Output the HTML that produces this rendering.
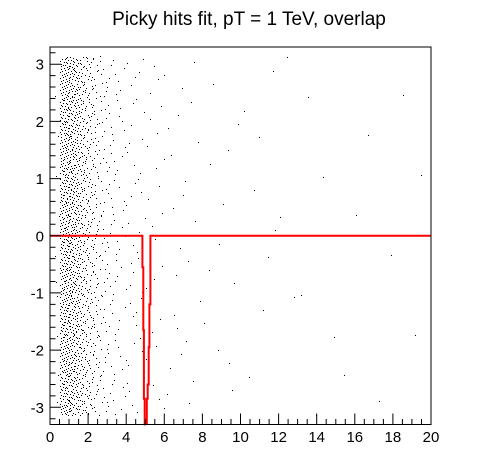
<!DOCTYPE html>
<html><head><meta charset="utf-8"><style>
html,body{margin:0;padding:0;background:#fff;}
svg{display:block;font-family:"Liberation Sans",sans-serif;}
</style></head><body>
<svg id="chart" width="496" height="472" viewBox="0 0 496 472" xmlns="http://www.w3.org/2000/svg">
<rect x="0" y="0" width="496" height="472" fill="#fff"/>
<text x="249" y="25" text-anchor="middle" font-size="19" fill="#000">Picky hits fit, pT = 1 TeV, overlap</text>
<g id="points"></g>
<g id="fit"></g>
<rect x="50" y="47" width="381" height="377.5" fill="none" stroke="#000" stroke-width="1"/>
<g id="axes"></g>
</svg>
<script>
// data
const binStart = [0.25,0.5,0.75,1.0,1.25,1.5,1.75,2.0,2.25,2.5,2.75,3.0,3.25,3.5,4.0,4.5,5.0,6.0,7.0,8.0,10.0,12.0,15.0];
const binEnd   = [0.5,0.75,1.0,1.25,1.5,1.75,2.0,2.25,2.5,2.75,3.0,3.25,3.5,4.0,4.5,5.0,6.0,7.0,8.0,10.0,12.0,15.0,20.0];
const binCounts= [10,230,270,250,210,160,125,95,70,45,35,28,22,30,24,20,25,15,10,12,8,8,8];
const fitLeftX = [0,4.85,4.85,4.9,4.9,4.93,4.93,4.97,4.97,5.02];
const fitLeftY = [0,0,-0.55,-0.55,-1.65,-1.65,-2.85,-2.85,-3.3,-3.3];
const fitRightX= [5.08,5.08,5.13,5.13,5.18,5.18,5.22,5.22,5.27,5.27,20];
const fitRightY= [-3.3,-2.85,-2.85,-2.6,-2.6,-1.95,-1.95,-1.2,-1.2,0,0];
const xTicks = [0,2,4,6,8,10,12,14,16,18,20];
const yTicks = [-3,-2,-1,0,1,2,3];

const X0=50,X1=431,Y0=47,Y1=424.5,XMIN=0,XMAX=20,YMIN=-3.3,YMAX=3.3;
const sx=v=>X0+(v-XMIN)/(XMAX-XMIN)*(X1-X0);
const sy=v=>Y1-(v-YMIN)/(YMAX-YMIN)*(Y1-Y0);
const NS="http://www.w3.org/2000/svg";
function halton(i,b){let f=1,r=0;while(i>0){f/=b;r+=f*(i%b);i=Math.floor(i/b);}return r;}
const pts=document.getElementById('points');
let idx=1, d='';
for(let k=0;k<binCounts.length;k++){
  for(let j=0;j<binCounts[k];j++){
    const x=binStart[k]+(binEnd[k]-binStart[k])*halton(idx,2);
    const y=-3.14+6.28*halton(idx,3);
    idx++;
    const px=Math.round(sx(x)),py=Math.round(sy(y));
    d+=`M${px},${py}h1v1h-1z`;
  }
}
const pp=document.createElementNS(NS,'path');
pp.setAttribute('d',d);pp.setAttribute('fill','#000');


pts.appendChild(pp);

const fit=document.getElementById('fit');
function poly(xs,ys,name){
  const pl=document.createElementNS(NS,'polyline');
  pl.setAttribute('points',xs.map((x,i)=>sx(x).toFixed(1)+','+sy(ys[i]).toFixed(1)).join(' '));
  pl.setAttribute('fill','none');pl.setAttribute('stroke','#f00');pl.setAttribute('stroke-width','2');
  
  
  fit.appendChild(pl);
}
poly(fitLeftX,fitLeftY,'fit-line-left');
poly(fitRightX,fitRightY,'fit-line-right');

const ax=document.getElementById('axes');
let td='';
for(let v=0;v<=20.001;v+=0.5){const x=sx(v);const major=Math.abs(v/2-Math.round(v/2))<1e-6;td+=`M${x.toFixed(1)},${Y1}v${major?-11:-5.5}`;}
for(let v=-3.2;v<=3.301;v+=0.2){const y=sy(v);const major=Math.abs(v-Math.round(v))<1e-6;td+=`M${X0},${y.toFixed(1)}h${major?11:5.5}`;}
const tp=document.createElementNS(NS,'path');
tp.setAttribute('d',td);tp.setAttribute('stroke','#000');tp.setAttribute('stroke-width','1');tp.setAttribute('fill','none');


ax.appendChild(tp);
xTicks.forEach(v=>{
  const t=document.createElementNS(NS,'text');
  t.setAttribute('x',sx(v));t.setAttribute('y',442);t.setAttribute('text-anchor','middle');t.setAttribute('font-size','15');
  t.textContent=v;
  
  
  ax.appendChild(t);
});
yTicks.forEach(v=>{
  const t=document.createElementNS(NS,'text');
  t.setAttribute('x',44);t.setAttribute('y',sy(v)+5.5);t.setAttribute('text-anchor','end');t.setAttribute('font-size','15');
  t.textContent=v;
  
  
  ax.appendChild(t);
});
</script>
</body></html>
